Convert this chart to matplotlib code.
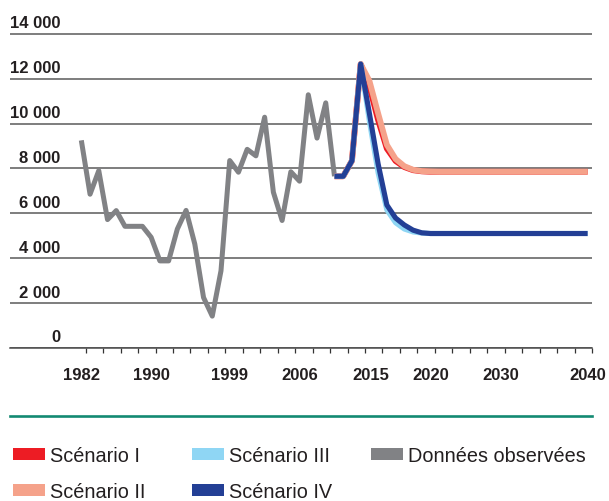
import numpy as np
import matplotlib
matplotlib.use("Agg")
import matplotlib.pyplot as plt
from matplotlib.transforms import ScaledTranslation
from matplotlib.patches import Patch
from matplotlib.lines import Line2D

# ---------------- data ----------------
obs_years = list(range(1982, 2012))
obs_values = [9250, 6850, 7900, 5720, 6120, 5420, 5420, 5420, 4930, 3880,
              3880, 5300, 6130, 4630, 2250, 1420, 3440, 8350, 7830, 8850,
              8560, 10280, 6940, 5680, 7850, 7430, 11280, 9350, 10920, 7650]

scen_years = list(range(2011, 2041))
scen1 = [7650, 7650, 8340, 12650, 11650, 10150, 8880, 8330, 8060, 7920,
         7870, 7850, 7850, 7850, 7850, 7850, 7850, 7850, 7850, 7850,
         7850, 7850, 7850, 7850, 7850, 7850, 7850, 7850, 7850, 7850]
scen2 = [7650, 7650, 8340, 12650, 11900, 10450, 9050, 8420, 8100, 7940,
         7880, 7860, 7850, 7850, 7850, 7850, 7850, 7850, 7850, 7850,
         7850, 7850, 7850, 7850, 7850, 7850, 7850, 7850, 7850, 7850]
scen3 = [7650, 7650, 8340, 12650, 10100, 7800, 6150, 5580, 5300, 5170,
         5120, 5100, 5100, 5100, 5100, 5100, 5100, 5100, 5100, 5100,
         5100, 5100, 5100, 5100, 5100, 5100, 5100, 5100, 5100, 5100]
scen4 = [7650, 7650, 8340, 12650, 10450, 8200, 6370, 5790, 5480, 5250,
         5130, 5100, 5100, 5100, 5100, 5100, 5100, 5100, 5100, 5100,
         5100, 5100, 5100, 5100, 5100, 5100, 5100, 5100, 5100, 5100]

y_ticks = [0, 2000, 4000, 6000, 8000, 10000, 12000, 14000]
y_tick_labels = ["0", "2 000", "4 000", "6 000", "8 000", "10 000", "12 000", "14 000"]
x_tick_labels = ["1982", "1990", "1999", "2006", "2015", "2020", "2030", "2040"]

legend_labels = ["Scénario I", "Scénario II", "Scénario III", "Scénario IV",
                 "Données observées"]

# ---------------- layout / style ----------------
x_label_pos = [1982, 1990, 1999, 2007, 2015.2, 2022, 2030, 2040]
C_RED = "#ed1c24"
C_SALMON = "#f5a28a"
C_LBLUE = "#8fd6f4"
C_DBLUE = "#233f95"
C_GRAY = "#818285"
TXT = "#231f20"

W, H = 609, 502
fig = plt.figure(figsize=(W / 100, H / 100), dpi=100)
px_per_unit = (349 - 34.7) / 14000
ytop = 14400
ax_h = ytop * px_per_unit
ax = fig.add_axes([10 / W, 1 - 349 / H, (592 - 10) / W, ax_h / H])
ax.set_xlim(1973.83, 2040.4)
ax.set_ylim(0, ytop)

lw = 3.7
ax.plot(obs_years, obs_values, color=C_GRAY, lw=3.6, solid_capstyle="butt",
        solid_joinstyle="round", zorder=3)
ax.plot(scen_years, scen1, color=C_RED, lw=4.2, solid_capstyle="butt",
        solid_joinstyle="round", zorder=4)
ax.plot(scen_years, scen2, color=C_SALMON, lw=4.2, solid_capstyle="butt",
        solid_joinstyle="round", zorder=5)
ax.plot(scen_years, scen3, color=C_LBLUE, lw=lw, solid_capstyle="butt",
        solid_joinstyle="round", zorder=6)
ax.plot(scen_years, scen4, color=C_DBLUE, lw=lw, solid_capstyle="butt",
        solid_joinstyle="round", zorder=7)

for s in ["top", "right", "left"]:
    ax.spines[s].set_visible(False)
ax.spines["bottom"].set_color("#4a4a4a")
ax.spines["bottom"].set_linewidth(1.1)

ax.set_yticks(y_ticks)
ax.set_yticklabels(y_tick_labels)
ax.grid(axis="y", color="#5a5a5a", lw=1.1)
ax.set_axisbelow(True)
ax.tick_params(axis="y", length=0, pad=0)

ax.set_xticks(x_label_pos)
ax.set_xticklabels(x_tick_labels)
ax.set_xticks(np.arange(1982.5, 2041, 2), minor=True)
ax.tick_params(axis="x", which="major", length=0, pad=14)
ax.tick_params(axis="x", which="minor", length=3.8, width=0.9, color="#333333")

for lab in ax.get_xticklabels() + ax.get_yticklabels():
    lab.set_fontfamily("Liberation Sans")
    lab.set_fontweight("bold")
    lab.set_fontsize(12)
    lab.set_color(TXT)

off = ScaledTranslation(0.50, 0.125, fig.dpi_scale_trans)
for lab in ax.get_yticklabels():
    lab.set_transform(lab.get_transform() + off)

# teal separator
fig.add_artist(Line2D([10 / W, 592 / W], [1 - 416.7 / H] * 2,
                      transform=fig.transFigure, color="#138a72", lw=1.9))

# legend in three columns
cols = [(12.7, [(legend_labels[0], C_RED), (legend_labels[1], C_SALMON)]),
        (191.7, [(legend_labels[2], C_LBLUE), (legend_labels[3], C_DBLUE)]),
        (371.0, [(legend_labels[4], C_GRAY)])]
fs = 14.3
fs_px = fs * 100 / 72
for x0, items in cols:
    handles = [Patch(facecolor=c, edgecolor="none") for _, c in items]
    labels = [t for t, _ in items]
    leg = fig.legend(handles, labels, loc="upper left",
                     bbox_to_anchor=(x0 / W, 1 - 447.5 / H),
                     bbox_transform=fig.transFigure,
                     frameon=False, borderpad=0, borderaxespad=0,
                     handlelength=32 / fs_px, handleheight=11 / fs_px,
                     handletextpad=5 / fs_px, labelspacing=0.85,
                     prop={"family": "Liberation Sans", "size": fs})
    for t in leg.get_texts():
        t.set_color(TXT)

fig.savefig("out.png", dpi=100)
